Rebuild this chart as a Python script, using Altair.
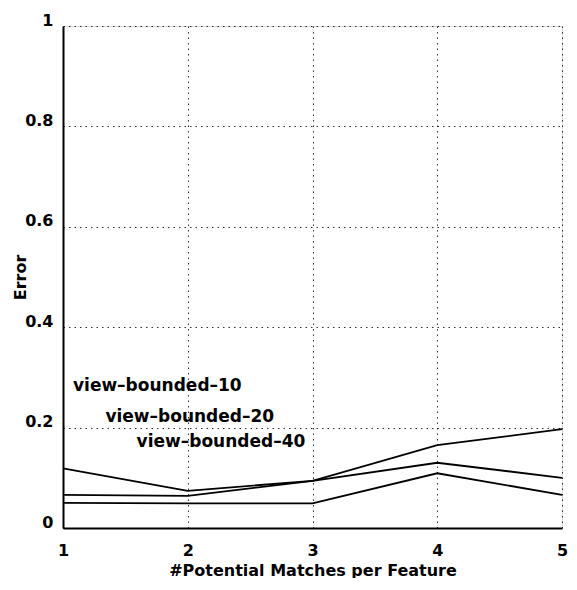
import altair as alt
import pandas as pd

matches = [1, 2, 3, 4, 5]
err_10 = [0.119, 0.074, 0.094, 0.130, 0.100]
err_20 = [0.066, 0.064, 0.094, 0.165, 0.197]
err_40 = [0.050, 0.049, 0.049, 0.109, 0.066]

label_text = ["view\u2013bounded\u201310", "view\u2013bounded\u201320", "view\u2013bounded\u201340"]
label_x = [1.08, 1.34, 1.59]
label_y = [0.283, 0.221, 0.171]

rows = []
for name, vals in [("10", err_10), ("20", err_20), ("40", err_40)]:
    for m, v in zip(matches, vals):
        rows.append({"matches": m, "error": v, "series": name})
df = pd.DataFrame(rows)
labels = pd.DataFrame({"x": label_x, "y": label_y, "text": label_text})

FONT = "DejaVu Sans"

xscale = alt.Scale(domain=[1, 5], nice=False, zero=False)
yscale = alt.Scale(domain=[0, 1], nice=False)

lines = alt.Chart(df).mark_line(color="black", strokeWidth=1.8).encode(
    x=alt.X("matches:Q", scale=xscale,
            axis=alt.Axis(values=[1, 2, 3, 4, 5], format="d",
                          title="#Potential Matches per Feature",
                          titleFont=FONT, titleFontSize=16, titleFontWeight="bold",
                          titleColor="black", titleY=42, titleBaseline="middle",
                          labelFont=FONT, labelFontSize=16, labelFontWeight="bold",
                          labelColor="black", labelPadding=14, labelFlush=False,
                          labelBound=False, ticks=False,
                          domainColor="black", domainWidth=2,
                          grid=True, gridColor="black", gridDash=[1.5, 4],
                          gridWidth=1, gridOpacity=0.8)),
    y=alt.Y("error:Q", scale=yscale,
            axis=alt.Axis(values=[0, 0.2, 0.4, 0.6, 0.8, 1], format="~g",
                          title="Error",
                          titleFont=FONT, titleFontSize=16, titleFontWeight="bold",
                          titleColor="black", titleX=-43, titleY=251,
                          titleBaseline="middle", titleAngle=270,
                          labelFont=FONT, labelFontSize=16, labelFontWeight="bold",
                          labelColor="black", labelPadding=10, labelOffset=-6,
                          labelFlush=False, labelBound=False, ticks=False,
                          domainColor="black", domainWidth=2,
                          grid=True, gridColor="black", gridDash=[1.5, 4],
                          gridWidth=1, gridOpacity=0.8)),
    detail="series:N",
)

texts = alt.Chart(labels).mark_text(
    align="left", baseline="middle", font=FONT, fontSize=17,
    fontWeight="bold", color="black"
).encode(
    x=alt.X("x:Q", scale=xscale),
    y=alt.Y("y:Q", scale=yscale),
    text="text:N",
)

chart = (lines + texts).properties(
    width=499, height=502,
    autosize=alt.AutoSizeParams(type="none"),
    padding={"left": 55, "top": 18, "right": 7, "bottom": 50},
).configure_view(stroke="black", strokeWidth=2).configure(background="white")

chart.save("out.html", embed_options={"renderer": "svg", "actions": False})
